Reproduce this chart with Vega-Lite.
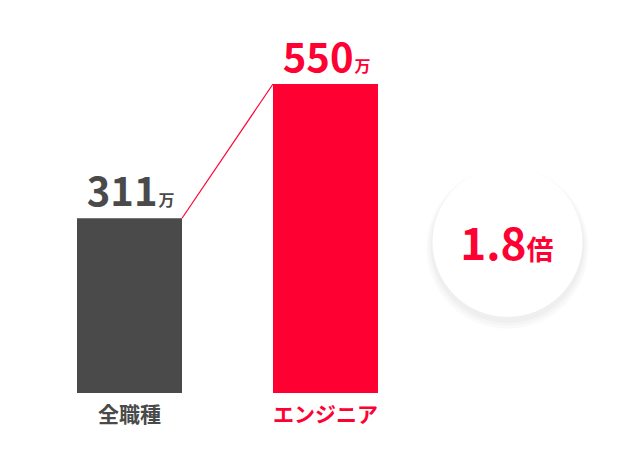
{
  "$schema": "https://vega.github.io/schema/vega-lite/v6.json",
  "width": 640,
  "height": 393,
  "autosize": {"type": "none"},
  "padding": {"left": 0, "top": 0, "right": 0, "bottom": 83},
  "background": "white",
  "config": {
    "view": {"stroke": null},
    "font": "Noto Sans CJK JP"
  },
  "datasets": {
    "bars": [
      {"cat": "全職種", "value": 311, "unit": "万"},
      {"cat": "エンジニア", "value": 550, "unit": "万"}
    ],
    "link": [
      {"from": "全職種", "to": "エンジニア", "v1": 311, "v2": 550}
    ],
    "ratio": [
      {"cat": "倍率", "num": "1.8", "unit": "倍", "ratio": 1.8}
    ]
  },
  "encoding": {
    "x": {
      "field": "cat",
      "type": "nominal",
      "sort": null,
      "scale": {
        "domain": ["全職種", "エンジニア", "倍率"],
        "range": [77, 574],
        "paddingInner": 0.4643,
        "paddingOuter": 0
      },
      "axis": {
        "values": ["全職種", "エンジニア"],
        "title": null,
        "domain": false,
        "ticks": false,
        "labelAngle": 0,
        "labelFontSize": 21,
        "labelFontWeight": "bold",
        "labelPadding": 11,
        "labelFont": "Noto Sans CJK JP",
        "labelColor": {
          "condition": {"test": "datum.value === 'エンジニア'", "value": "#ff0033"},
          "value": "#4a4a4a"
        }
      }
    }
  },
  "layer": [
    {
      "data": {"name": "bars"},
      "mark": {"type": "bar", "width": {"band": 1}},
      "encoding": {
        "y": {
          "field": "value",
          "type": "quantitative",
          "scale": {"domain": [0, 699.5], "nice": false, "zero": true},
          "axis": null
        },
        "color": {
          "field": "cat",
          "type": "nominal",
          "scale": {"domain": ["全職種", "エンジニア"], "range": ["#4a4a4a", "#ff0033"]},
          "legend": null
        }
      }
    },
    {
      "data": {"name": "link"},
      "mark": {"type": "rule", "color": "#ff0033", "strokeWidth": 1.2},
      "encoding": {
        "x": {"field": "from", "type": "nominal", "bandPosition": 1},
        "x2": {"field": "to", "bandPosition": 0},
        "y": {"field": "v1", "type": "quantitative"},
        "y2": {"field": "v2"}
      }
    },
    {
      "data": {"name": "bars"},
      "mark": {"type": "text", "align": "right", "baseline": "alphabetic", "dx": 28, "dy": -12, "fontSize": 40, "fontWeight": "bold"},
      "encoding": {
        "y": {"field": "value", "type": "quantitative"},
        "text": {"field": "value", "type": "quantitative"},
        "color": {"field": "cat", "type": "nominal", "legend": null}
      }
    },
    {
      "data": {"name": "bars"},
      "mark": {"type": "text", "align": "left", "baseline": "alphabetic", "dx": 29, "dy": -12, "fontSize": 16, "fontWeight": "bold"},
      "encoding": {
        "y": {"field": "value", "type": "quantitative"},
        "text": {"field": "unit", "type": "nominal"},
        "color": {"field": "cat", "type": "nominal", "legend": null}
      }
    },
    {
      "data": {"name": "ratio"},
      "mark": {"type": "point", "shape": "circle", "filled": true, "color": "#000000", "opacity": 0.018, "size": 26244, "strokeWidth": 0},
      "encoding": {"y": {"datum": 269, "type": "quantitative"}, "xOffset": {"value": 38.5}, "yOffset": {"value": 6}}
    },
    {
      "data": {"name": "ratio"},
      "mark": {"type": "point", "shape": "circle", "filled": true, "color": "#000000", "opacity": 0.02, "size": 24964, "strokeWidth": 0},
      "encoding": {"y": {"datum": 269, "type": "quantitative"}, "xOffset": {"value": 38.5}, "yOffset": {"value": 5}}
    },
    {
      "data": {"name": "ratio"},
      "mark": {"type": "point", "shape": "circle", "filled": true, "color": "#000000", "opacity": 0.025, "size": 23716, "strokeWidth": 0},
      "encoding": {"y": {"datum": 269, "type": "quantitative"}, "xOffset": {"value": 38.5}, "yOffset": {"value": 4}}
    },
    {
      "data": {"name": "ratio"},
      "mark": {"type": "point", "shape": "circle", "filled": true, "color": "#ffffff", "opacity": 1, "size": 22500, "strokeWidth": 0},
      "encoding": {"y": {"datum": 269, "type": "quantitative"}, "xOffset": {"value": 38.5}}
    },
    {
      "data": {"name": "ratio"},
      "mark": {"type": "text", "align": "right", "baseline": "alphabetic", "dx": 5, "dy": 18, "fontSize": 44, "fontWeight": "bold", "color": "#ff0033"},
      "encoding": {
        "y": {"datum": 269, "type": "quantitative"},
        "text": {"field": "num", "type": "nominal"}
      }
    },
    {
      "data": {"name": "ratio"},
      "mark": {"type": "text", "align": "left", "baseline": "alphabetic", "dx": 5, "dy": 18, "fontSize": 27, "fontWeight": "bold", "color": "#ff0033"},
      "encoding": {
        "y": {"datum": 269, "type": "quantitative"},
        "text": {"field": "unit", "type": "nominal"}
      }
    }
  ]
}
